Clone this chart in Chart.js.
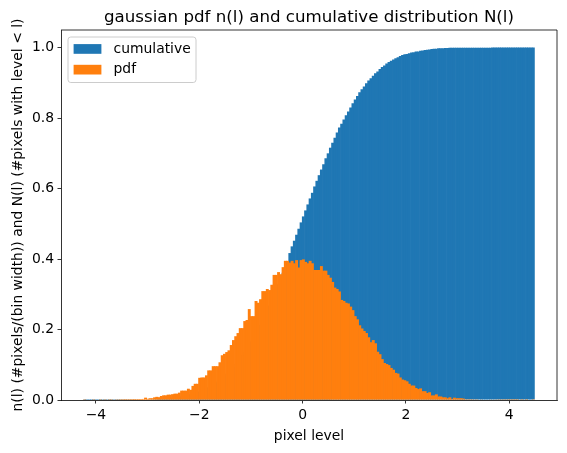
<!DOCTYPE html>
<html lang="en">
  <head>
    <meta charset="UTF-8" />
    <title>gaussian pdf and cumulative distribution</title>
    <script src="https://cdn.jsdelivr.net/npm/chart.js"></script>
    <style>
      body { margin: 0; background: #fff; }
      canvas { display: block; }
    </style>
  </head>
  <body>
    <canvas id="histChart" width="567" height="453"></canvas>

    <script>
        // histogram bins: 200 bins between the sample min and max
        const binLo = -4.24;
        const binHi = 4.49;
        const nBins = 200;

        // n(l): density per bin
        const pdfValues = [
            0.0002, 0, 0, 0, 0.0002, 0, 0, 0.0002, 0, 0.0002, 0, 0.0002, 0.0003, 0, 0.0004, 0.0005,
            0.0022, 0.0022, 0.0025, 0.0022, 0.0025, 0.0025, 0.0028, 0.0025, 0.0028, 0.0028, 0.0030,
            0.0066, 0.0035, 0.0050, 0.0050, 0.0076, 0.0090, 0.0080, 0.0114, 0.0133, 0.0133, 0.0152,
            0.0152, 0.0165, 0.0180, 0.0180, 0.0209, 0.0266, 0.0266, 0.0266, 0.032, 0.029, 0.040, 0.046, 0.046,
            0.063, 0.064, 0.064, 0.070, 0.084, 0.084, 0.096, 0.096, 0.096, 0.107,
            0.127, 0.131, 0.136, 0.141, 0.156, 0.170, 0.181, 0.190, 0.204, 0.204,
            0.224, 0.227, 0.258, 0.238, 0.238, 0.281, 0.276, 0.286, 0.309, 0.309,
            0.315, 0.312, 0.327, 0.355, 0.355, 0.363, 0.357, 0.377, 0.395, 0.395,
            0.390, 0.395, 0.388, 0.397, 0.376, 0.397, 0.399, 0.392, 0.388, 0.395,
            0.388, 0.369, 0.369, 0.369, 0.380, 0.367, 0.367, 0.355, 0.347, 0.335,
            0.319, 0.315, 0.308, 0.284, 0.281, 0.276, 0.274, 0.265, 0.255, 0.238,
            0.229, 0.212, 0.203, 0.196, 0.190, 0.178, 0.164, 0.170, 0.161, 0.137,
            0.130, 0.116, 0.105, 0.102, 0.099, 0.091, 0.086, 0.077, 0.075, 0.064,
            0.058, 0.056, 0.053, 0.046, 0.041, 0.041, 0.034, 0.031, 0.033, 0.025,
            0.025, 0.020, 0.022, 0.013, 0.013, 0.016, 0.010, 0.010, 0.0076, 0.0076,
            0.005, 0.0076, 0.003, 0.0066, 0.005, 0.005, 0.005, 0.004, 0.002, 0.002,
            0.002, 0.0018, 0.0015, 0.0018, 0.0012, 0.0015, 0.0012, 0.001, 0.0012, 0.0008,
            0.001, 0.0008, 0.0007, 0.0005, 0.0006, 0.0004, 0.0005, 0.0003, 0.0003, 0.0002,
            0.0002, 0.0002, 0, 0.0001, 0, 0.0001, 0, 0, 0.0002
        ];

        // N(l): cumulative fraction per bin
        const cumValues = [
            0.00001, 0.00001, 0.00002, 0.00002, 0.00003, 0.00003, 0.00004, 0.00005, 0.00006, 0.00007,
            0.00008, 0.0001, 0.00012, 0.00014, 0.00017, 0.0002, 0.00023, 0.00027, 0.00032, 0.00038,
            0.00045, 0.00052, 0.0006, 0.0007, 0.0008, 0.00095, 0.0011, 0.0013, 0.0015, 0.0017,
            0.0019, 0.0022, 0.0025, 0.0029, 0.0033, 0.0038, 0.0043, 0.0049, 0.0056, 0.0063,
            0.0071, 0.008, 0.009, 0.0101, 0.0114, 0.0128, 0.0144, 0.0161, 0.018, 0.02,
            0.022, 0.0245, 0.0272, 0.03, 0.0331, 0.0363, 0.0399, 0.0438, 0.048, 0.0525,
            0.0574, 0.0627, 0.0683, 0.0743, 0.0806, 0.0871, 0.0942, 0.1017, 0.1097, 0.118,
            0.127, 0.1362, 0.1458, 0.1558, 0.1665, 0.178, 0.19, 0.202, 0.214, 0.227,
            0.240, 0.254, 0.268, 0.283, 0.298, 0.313, 0.329, 0.345, 0.361, 0.378,
            0.394, 0.417, 0.436, 0.452, 0.469, 0.486, 0.504, 0.521, 0.538, 0.555,
            0.572, 0.588, 0.606, 0.622, 0.638, 0.654, 0.669, 0.686, 0.700, 0.716,
            0.730, 0.744, 0.759, 0.773, 0.784, 0.796, 0.808, 0.819, 0.830, 0.842,
            0.853, 0.863, 0.873, 0.882, 0.890, 0.899, 0.907, 0.913, 0.920, 0.927,
            0.932, 0.939, 0.945, 0.949, 0.955, 0.959, 0.963, 0.966, 0.970, 0.973,
            0.976, 0.979, 0.981, 0.982, 0.984, 0.986, 0.987, 0.989, 0.989, 0.991,
            0.992, 0.993, 0.994, 0.995, 0.996, 0.997, 0.997, 0.998, 0.998, 0.9985,
            0.9988, 0.999, 0.9993, 0.9994, 0.9995, 0.9996, 0.9997, 0.9997, 0.9998, 0.9998,
            0.9998, 0.9999, 0.9999, 0.9999, 0.9999, 0.9999, 0.9999, 0.9999, 0.9999, 0.9999,
            0.9999, 1, 1, 1, 1, 1, 1, 1, 1, 1,
            1, 1, 1, 1, 1, 1, 1, 1, 1, 1
        ];

        const xTicks = [-4, -2, 0, 2, 4];
        const yTicks = [0, 0.2, 0.4, 0.6, 0.8, 1.0];

        const chartTitle = 'gaussian pdf n(l) and cumulative distribution N(l)';
        const xLabel = 'pixel level';
        const yLabel = 'n(l) (#pixels/(bin width)) and N(l) (#pixels with level < l)';

        const binWidth = (binHi - binLo) / nBins;
        const centers = pdfValues.map((_, i) => binLo + binWidth * (i + 0.5));

        const BLUE = '#1f77b4';
        const ORANGE = '#ff7f0e';
        const FONT = '"DejaVu Sans", sans-serif';

        // matplotlib style frame, title and in-axes legend
        const mplDecor = {
            id: 'mplDecor',
            afterDraw(chart) {
                const ctx = chart.ctx;
                const a = chart.chartArea;
                ctx.save();

                ctx.strokeStyle = '#000';
                ctx.lineWidth = 0.8;
                ctx.beginPath();
                ctx.moveTo(a.left, a.top);
                ctx.lineTo(a.right, a.top);
                ctx.lineTo(a.right, a.bottom);
                ctx.stroke();

                ctx.fillStyle = '#000';
                ctx.font = '16.67px ' + FONT;
                ctx.textAlign = 'center';
                ctx.textBaseline = 'alphabetic';
                ctx.fillText(chartTitle, (a.left + a.right) / 2, a.top - 8.3);

                // legend box
                const lx = a.left + 7, ly = a.top + 7;
                ctx.beginPath();
                ctx.roundRect(lx, ly, 128, 45.5, 2.8);
                ctx.fillStyle = 'rgba(255,255,255,0.8)';
                ctx.fill();
                ctx.strokeStyle = '#cccccc';
                ctx.lineWidth = 1;
                ctx.stroke();

                const entries = [
                    { label: 'cumulative', color: BLUE },
                    { label: 'pdf', color: ORANGE }
                ];
                ctx.font = '13.9px ' + FONT;
                ctx.textAlign = 'left';
                ctx.textBaseline = 'middle';
                entries.forEach((e, i) => {
                    const cy = ly + 12 + i * 20.7;
                    ctx.fillStyle = e.color;
                    ctx.fillRect(lx + 5.6, cy - 4.9, 27.8, 9.7);
                    ctx.fillStyle = '#000';
                    ctx.fillText(e.label, lx + 45.5, cy);
                });
                ctx.restore();
            }
        };

        // bars slightly wider than the bin so neighbours overlap and no seams show
        const barStyle = {
            borderWidth: 0,
            barPercentage: 1.3,
            categoryPercentage: 1,
            inflateAmount: 0,
            grouped: false
        };

        const ctx = document.getElementById('histChart').getContext('2d');
        new Chart(ctx, {
            type: 'bar',
            data: {
                datasets: [
                    Object.assign({
                        label: 'pdf',
                        data: pdfValues.map((v, i) => ({ x: centers[i], y: v })),
                        backgroundColor: ORANGE
                    }, barStyle),
                    Object.assign({
                        label: 'cumulative',
                        data: cumValues.map((v, i) => ({ x: centers[i], y: v })),
                        backgroundColor: BLUE
                    }, barStyle)
                ]
            },
            options: {
                responsive: false,
                animation: false,
                devicePixelRatio: 1,
                layout: { padding: { top: 30, right: 10, left: 0, bottom: 0 } },
                plugins: {
                    legend: { display: false },
                    tooltip: { enabled: false },
                    title: { display: false }
                },
                scales: {
                    x: {
                        type: 'linear',
                        min: -4.677,
                        max: 4.927,
                        offset: false,
                        grid: {
                            offset: false,
                            drawOnChartArea: false,
                            drawTicks: true,
                            tickLength: 3.5,
                            lineWidth: 0.8,
                            tickWidth: 0.8,
                            tickColor: '#000'
                        },
                        border: { display: true, color: '#000', width: 0.8 },
                        afterBuildTicks: scale => { scale.ticks = xTicks.map(v => ({ value: v })); },
                        afterFit: scale => { scale.height = 53; },
                        ticks: {
                            color: '#000',
                            padding: 3.5,
                            maxRotation: 0,
                            font: { family: FONT, size: 13.9 },
                            callback: v => (v < 0 ? '\u2212' + Math.abs(v) : String(v))
                        },
                        title: {
                            display: true,
                            text: xLabel,
                            color: '#000',
                            font: { family: FONT, size: 13.9 },
                            padding: { top: 0, bottom: 8 }
                        }
                    },
                    y: {
                        min: 0,
                        max: 1.05,
                        grid: {
                            drawOnChartArea: false,
                            drawTicks: true,
                            tickLength: 3.5,
                            lineWidth: 0.8,
                            tickWidth: 0.8,
                            tickColor: '#000'
                        },
                        border: { display: true, color: '#000', width: 0.8 },
                        afterBuildTicks: scale => { scale.ticks = yTicks.map(v => ({ value: v })); },
                        afterFit: scale => { scale.width = 61; },
                        ticks: {
                            color: '#000',
                            padding: 3.5,
                            font: { family: FONT, size: 13.9 },
                            callback: v => v.toFixed(1)
                        },
                        title: {
                            display: true,
                            text: yLabel,
                            color: '#000',
                            font: { family: FONT, size: 13.9 },
                            padding: { top: 10, bottom: 0 }
                        }
                    }
                }
            },
            plugins: [mplDecor]
        });
    </script>
  </body>
</html>
